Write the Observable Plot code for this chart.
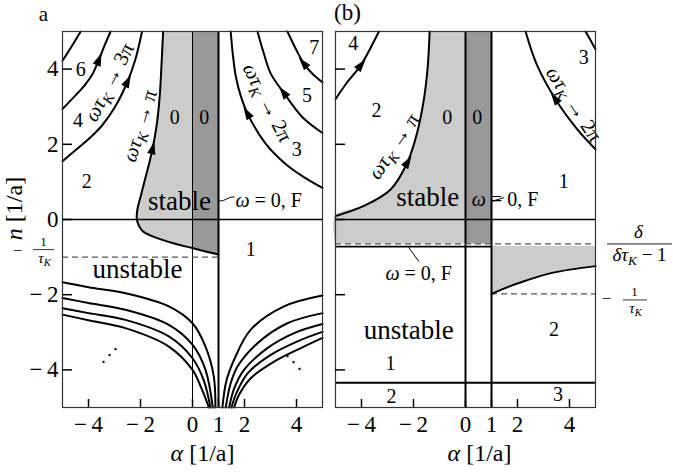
<!DOCTYPE html>
<html><head><meta charset="utf-8">
<script src="https://cdn.jsdelivr.net/npm/d3@7"></script>
<script src="https://cdn.jsdelivr.net/npm/@observablehq/plot@0.6"></script>
<style>
body{margin:0;background:#fff;}
#wrap{position:relative;width:673px;height:475px;overflow:hidden;background:#fff;}
#wrap svg{position:absolute;top:0;}
</style></head><body><div id="wrap"></div>
<script>
// ---------- data ----------
const xDomain = [-5, 5], yDomain = [-5, 5];
const xTicks = [-4, -2, 0, 1, 2, 4];
const yTicks = [4, 2, 0, -2, -4];

// panel a : curves [alpha, n]
const aPiCurve = [[1,-0.93],[0.5,-0.85],[0,-0.76],[-0.6,-0.66],[-1.22,-0.53],[-1.6,-0.43],[-1.9,-0.32],[-2.05,-0.18],[-2.14,0],[-2.12,0.27],[-2.0,0.6],[-1.86,0.98],[-1.7,1.4],[-1.54,1.87],[-1.38,2.5],[-1.27,3.2],[-1.2,4.0],[-1.13,5]];
const a3PiCurve = [[-5,1.55],[-4.4,1.9],[-3.9,2.2],[-3.48,2.5],[-3.0,2.97],[-2.51,3.65],[-2.2,4.25],[-1.94,5]];
const a5PiCurve = [[-5,2.94],[-4.5,3.3],[-4.15,3.57],[-3.86,3.85],[-3.63,4.2],[-3.4,4.6],[-3.15,5]];
const a7PiCurve = [[-5,4.22],[-4.65,4.6],[-4.3,5]];
const a2PiCurve = [[5,0.84],[4.3,1.12],[3.59,1.47],[2.82,2.01],[2.12,2.81],[1.85,3.3],[1.67,3.79],[1.55,4.4],[1.47,5]];
const a4PiCurve = [[5,2.3],[4.23,2.72],[3.52,3.36],[3.01,3.88],[2.75,4.4],[2.5,5]];
const a6PiCurve = [[5,3.65],[4.65,3.85],[4.29,4.14],[4.0,4.5],[3.65,5]];
const aLowLeft = [
  [[-5,-1.67],[-4,-1.8],[-2.58,-1.96],[-0.91,-2.31],[0,-2.76],[0.5,-3.38],[0.82,-4.18],[0.88,-5]],
  [[-5,-2.09],[-4,-2.22],[-2.58,-2.4],[-0.91,-2.8],[0,-3.33],[0.5,-4.0],[0.78,-5]],
  [[-5,-2.36],[-4,-2.49],[-2.58,-2.67],[-0.91,-3.11],[0,-3.69],[0.43,-4.27],[0.69,-5]],
  [[-5,-2.53],[-4,-2.68],[-2.58,-2.89],[-0.91,-3.38],[0,-4.0],[0.35,-4.5],[0.63,-5]]
];
const aLowRight = [
  [[1.15,-5],[1.3,-4.3],[1.6,-3.73],[2.24,-2.93],[3.52,-2.31],[5,-2.02]],
  [[1.28,-5],[1.45,-4.4],[1.73,-3.91],[2.5,-3.29],[3.65,-2.76],[5,-2.49]],
  [[1.41,-5],[1.6,-4.5],[1.98,-4.0],[2.88,-3.42],[3.91,-3.02],[5,-2.78]],
  [[1.5,-5],[1.7,-4.6],[2.12,-4.09],[3.01,-3.6],[4.04,-3.24],[5,-2.99]],
  [[1.6,-5],[1.8,-4.65],[2.24,-4.22],[3.14,-3.78],[4.17,-3.42],[5,-3.15]]
];
const aTau = -1;              // -1/tau_K in panel a
const aArrowY = [1.87, 3.65, 4.23, 2.81, 3.36, 4.14];
const aNumbers = [[-4.3,4.0,"6"],[-4.4,2.62,"4"],[-4.07,1.02,"2"],[-0.68,2.71,"0"],[0.45,2.71,"0"],[4.01,1.87,"3"],[4.4,3.29,"5"],[4.68,4.58,"7"],[2.24,-0.8,"1"]];
const aWords = [[-0.5,0.47,"stable"],[-2.12,-1.33,"unstable"]];
const aCurveLabels = [[-3.2,3.65,"ωτK → 3π",-63],[-2.03,2.49,"ωτK → π",-73],[2.88,3.11,"ωτK → 2π",63]];
const aDots = [[-3.19,-3.6,"⋰"],[3.88,-3.8,"⋱"]];
const aOmegaLabel = [[1.65,0.51,"ω = 0, F"]];
const aLeader = [[1.02,0.49],[1.6,0.6]];

// panel b
const bPiCurve = [[-5,0.09],[-3.91,0.36],[-2.88,0.8],[-2.24,1.51],[-1.86,2.31],[-1.6,3.2],[-1.45,4.09],[-1.38,5]];
const b3PiCurve = [[-5,3.2],[-4.55,3.65],[-4.04,4.09],[-3.33,5]];
const b2PiCurve = [[5,1.87],[4.3,2.4],[3.46,3.2],[2.76,4.09],[2.31,5]];
const b4PiCurve = [[5,4.53],[4.8,4.78],[4.62,5]];
const bLowCurve = [[1,-1.98],[1.4,-1.86],[2.05,-1.69],[3.33,-1.42],[5,-1.24]];
const bBand = -0.65;          // delta/(delta tau_K - 1)
const bOmegaLine = -0.72;
const bTau = -1.98;           // -1/tau_K in panel b
const bBottomLine = -4.34;
const bArrowY = [1.51, 4.09, 3.2];
const bNumbers = [[-4.32,4.67,"4"],[-3.42,2.89,"2"],[-0.7,2.71,"0"],[0.45,2.71,"0"],[4.55,4.31,"3"],[3.78,1.02,"1"],[-2.88,-3.82,"1"],[-2.85,-4.71,"2"],[3.56,-4.67,"3"],[3.4,-2.93,"2"]];
const bWords = [[-1.45,0.6,"stable"],[-2.18,-2.96,"unstable"]];
const bCurveLabels = [[-2.76,1.95,"ωτK → π",-56],[4.17,3.07,"ωτK → 2π",57]];
const bOmegaLabels = [[1.52,0.53,"ω = 0, F","start"],[-1.8,-1.44,"ω = 0, F","middle"]];
const bLeaders = [[[1.05,0.49],[1.47,0.58]],[[-2.18,-0.75],[-1.8,-1.11]]];

// ---------- layout ----------
const H = 475, mT = 31, mB = 68;
const A = {left: 0, width: 330, mL: 62, mR: 8};
const B = {left: 329, width: 344, mL: 6, mR: 78};
const LIGHT = "#cccccc", DARK = "#999999", FONT = "'Liberation Serif', 'DejaVu Serif', serif";

const pts = a => a.map(([x, y]) => ({x, y}));
const arrowHead = {draw(ctx) { ctx.moveTo(0, -8); ctx.lineTo(4.2, 5); ctx.lineTo(-4.2, 5); ctx.closePath(); }};

function arrowOn(curve, yAt, kx, ky) {
  const p = curve.slice().sort((a, b) => a[1] - b[1]);
  for (let i = 0; i < p.length - 1; i++) {
    const [x0, y0] = p[i], [x1, y1] = p[i + 1];
    if (yAt >= y0 && yAt <= y1) {
      const t = (yAt - y0) / (y1 - y0);
      return {x: x0 + t * (x1 - x0), y: yAt, rotate: Math.atan2((x1 - x0) * kx, (y1 - y0) * ky) * 180 / Math.PI};
    }
  }
}
const line = (c, w = 2) => Plot.line(pts(c), {x: "x", y: "y", curve: "catmull-rom", strokeWidth: w, stroke: "black"});
const nums = (arr, size) => Plot.text(arr, {x: d => d[0], y: d => d[1], text: d => d[2], fontSize: size});
const rotLabels = arr => Plot.text(arr, {x: d => d[0], y: d => d[1], text: d => d[2], rotate: d => d[3], fontSize: 21});
// label anchored to the frame, always centred on its anchor point
const note = (data, opts) => Plot.text(data, {textAnchor: "middle", lineAnchor: "middle", ...opts});
// inward tick marks, length given in pixels
const ticksIn = (kx, ky) => [
  Plot.ruleY(yTicks, {x1: xDomain[0], x2: xDomain[0] + 10 / kx, stroke: "black", strokeWidth: 1.5}),
  Plot.ruleX(xTicks, {y1: yDomain[0], y2: yDomain[0] + 8 / ky, stroke: "black", strokeWidth: 1.5})
];
const fmtTick = d => d < 0 ? "−\u2009" + Math.abs(d) : String(d);

function panel(P, marks) {
  return Plot.plot({
    width: P.width, height: H, marginTop: mT, marginBottom: mB, marginLeft: P.mL, marginRight: P.mR,
    x: {domain: xDomain, label: null, axis: null}, y: {domain: yDomain, label: null, axis: null},
    style: {fontFamily: FONT, fontSize: "20px", background: "transparent", overflow: "visible"},
    marks
  });
}

// ---------- panel a ----------
const kxA = (A.width - A.mL - A.mR) / 10, ky = (H - mT - mB) / 10;
const aCurvesWithArrows = [aPiCurve, a3PiCurve, a5PiCurve, a2PiCurve, a4PiCurve, a6PiCurve];
const aArrows = aCurvesWithArrows.map((c, i) => arrowOn(c, aArrowY[i], kxA, ky));

const svgA = panel(A, [
  Plot.areaX(pts(aPiCurve), {y: "y", x1: "x", x2: 1, fill: LIGHT, curve: "catmull-rom"}),
  Plot.areaY(pts(aPiCurve).filter(d => d.x >= 0), {x: "x", y1: "y", y2: yDomain[1], fill: DARK}),
  Plot.ruleX([0], {strokeWidth: 1}),
  Plot.ruleX([1], {strokeWidth: 2}),
  Plot.ruleY([0], {strokeWidth: 1.5}),
  Plot.ruleY([aTau], {x1: xDomain[0], x2: 1, stroke: "#555", strokeWidth: 1.3, strokeDasharray: "6,4"}),
  line(aPiCurve), line(a3PiCurve), line(a5PiCurve), line(a7PiCurve),
  line(a2PiCurve), line(a4PiCurve), line(a6PiCurve),
  ...aLowLeft.map(c => line(c)), ...aLowRight.map(c => line(c)),
  Plot.dot(aArrows, {x: "x", y: "y", rotate: "rotate", symbol: arrowHead, fill: "black", stroke: "none", r: 5}),
  Plot.line(pts(aLeader), {x: "x", y: "y", strokeWidth: 1, curve: "bump-x"}),
  nums(aNumbers, 20),
  nums(aWords, 27),
  rotLabels(aCurveLabels),
  Plot.text(aDots, {x: d => d[0], y: d => d[1], text: d => d[2], fontSize: 18, fontFamily: "DejaVu Sans"}),
  Plot.text(aOmegaLabel, {x: d => d[0], y: d => d[1], text: d => d[2], textAnchor: "start", fontSize: 20}),
  Plot.frame({stroke: "#333", strokeWidth: 1.2}),
  ...ticksIn(kxA, ky),
  Plot.axisY(yTicks, {anchor: "left", tickSize: 0, tickPadding: 4, fontSize: 23, tickFormat: fmtTick, label: null}),
  Plot.axisX(xTicks, {anchor: "bottom", tickSize: 0, tickPadding: 8, fontSize: 23, tickFormat: fmtTick, label: null}),
  // -1/tau_K at left
  note([aTau], {y: d => d, frameAnchor: "left", text: () => "−", dx: -45, dy: -7, fontSize: 17}),
  note([aTau], {y: d => d, frameAnchor: "left", text: () => "1", dx: -19, dy: -15, fontSize: 13}),
  note([aTau], {y: d => d, frameAnchor: "left", text: () => "τK", dx: -18, dy: 1, fontSize: 15}),
  Plot.ruleY([aTau], {x1: xDomain[0] - 29 / kxA, x2: xDomain[0] - 8 / kxA, dy: -7.5, strokeWidth: 0.8}),
  note(["n [1/a]"], {frameAnchor: "left", text: d => d, rotate: -90, dx: -48, dy: -11, fontSize: 24}),
  note(["α [1/a]"], {frameAnchor: "bottom", text: d => d, dx: 10, dy: 46, fontSize: 24}),
  note(["a"], {frameAnchor: "top-left", text: d => d, dx: -19, dy: -17, fontSize: 21})
]);

// ---------- panel b ----------
const kxB = (B.width - B.mL - B.mR) / 10;
const bArrows = [bPiCurve, b3PiCurve, b2PiCurve].map((c, i) => arrowOn(c, bArrowY[i], kxB, ky));
const bLightPts = [{x: xDomain[0], y: bBand}, ...pts(bPiCurve)];

const svgB = panel(B, [
  Plot.areaX(bLightPts, {y: "y", x1: "x", x2: 0, fill: LIGHT, curve: "catmull-rom"}),
  Plot.areaY([{x: 0}, {x: 1}], {x: "x", y1: bBand, y2: yDomain[1], fill: DARK}),
  Plot.areaY(pts(bLowCurve), {x: "x", y1: "y", y2: bOmegaLine, fill: LIGHT, curve: "catmull-rom"}),
  Plot.ruleX([0, 1], {strokeWidth: 2}),
  Plot.ruleY([0], {strokeWidth: 1.5}),
  Plot.ruleY([bOmegaLine], {x1: xDomain[0], x2: 1, strokeWidth: 1.8}),
  Plot.ruleY([bBand], {stroke: "#555", strokeWidth: 1.3, strokeDasharray: "6,4"}),
  Plot.ruleY([bTau], {x1: 1, x2: xDomain[1], stroke: "#555", strokeWidth: 1.3, strokeDasharray: "6,4"}),
  Plot.ruleY([bBottomLine], {strokeWidth: 2}),
  line(bPiCurve), line(b3PiCurve), line(b2PiCurve), line(b4PiCurve), line(bLowCurve),
  Plot.dot(bArrows, {x: "x", y: "y", rotate: "rotate", symbol: arrowHead, fill: "black", stroke: "none", r: 5}),
  ...bLeaders.map(l => Plot.line(pts(l), {x: "x", y: "y", strokeWidth: 1})),
  nums(bNumbers, 20),
  nums(bWords, 27),
  rotLabels(bCurveLabels),
  Plot.text(bOmegaLabels, {x: d => d[0], y: d => d[1], text: d => d[2], textAnchor: d => d[3], fontSize: 20}),
  Plot.frame({stroke: "#333", strokeWidth: 1.2}),
  ...ticksIn(kxB, ky),
  Plot.axisX(xTicks, {anchor: "bottom", tickSize: 0, tickPadding: 8, fontSize: 23, tickFormat: fmtTick, label: null}),
  // right-hand labels
  note([bBand], {y: d => d, frameAnchor: "right", text: () => "δ", dx: 43, dy: -12, fontSize: 19}),
  note([bBand], {y: d => d, frameAnchor: "right", text: () => "δτK − 1", dx: 44, dy: 11, fontSize: 19}),
  Plot.ruleY([bBand], {x1: xDomain[1] + 12 / kxB, x2: xDomain[1] + 77 / kxB, strokeWidth: 0.9}),
  note([bTau], {y: d => d, frameAnchor: "right", text: () => "−", dx: 11, dy: 5, fontSize: 17}),
  note([bTau], {y: d => d, frameAnchor: "right", text: () => "1", dx: 39, dy: -2, fontSize: 13}),
  note([bTau], {y: d => d, frameAnchor: "right", text: () => "τK", dx: 40, dy: 14, fontSize: 15}),
  Plot.ruleY([bTau], {x1: xDomain[1] + 28 / kxB, x2: xDomain[1] + 52 / kxB, dy: 6, strokeWidth: 0.8}),
  note(["α [1/a]"], {frameAnchor: "bottom", text: d => d, dx: 14, dy: 46, fontSize: 24}),
  note(["(b)"], {frameAnchor: "top-left", text: d => d, dx: 12, dy: -19, fontSize: 23})
]);

// ---------- math styling (italic greek, subscript K) ----------
const SVGNS = "http://www.w3.org/2000/svg";
function mathify(svg) {
  for (const t of Array.from(svg.querySelectorAll("text"))) {
    let target = t;
    if (t.children.length === 1 && t.firstElementChild.tagName === "tspan") target = t.firstElementChild;
    else if (t.children.length) continue;
    const s = target.textContent;
    const isN = s.startsWith("n [");
    if (!isN && !/[ωτδα]/.test(s)) continue;
    const chars = Array.from(s);
    target.textContent = "";
    let buf = "", shift = false;
    const flush = () => {
      if (!buf) return;
      const ts = document.createElementNS(SVGNS, "tspan");
      ts.textContent = buf;
      if (shift) { ts.setAttribute("dy", "-0.22em"); shift = false; }
      target.appendChild(ts); buf = "";
    };
    chars.forEach((c, i) => {
      const ital = "ωτδα".includes(c) || (isN && i === 0);
      const sub = c === "K" && chars[i - 1] === "τ";
      if (ital || sub) {
        flush();
        const ts = document.createElementNS(SVGNS, "tspan");
        ts.textContent = c;
        ts.setAttribute("font-style", "italic");
        if (sub) { ts.setAttribute("font-size", "70%"); ts.setAttribute("dy", "0.32em"); }
        else if (shift) { ts.setAttribute("dy", "-0.22em"); shift = false; }
        target.appendChild(ts);
        if (sub) shift = true;
      } else buf += c;
    });
    flush();
  }
}
mathify(svgA); mathify(svgB);
svgA.style.left = A.left + "px";
svgB.style.left = B.left + "px";
const wrap = document.getElementById("wrap");
wrap.appendChild(svgA);
wrap.appendChild(svgB);
</script>
</body></html>
